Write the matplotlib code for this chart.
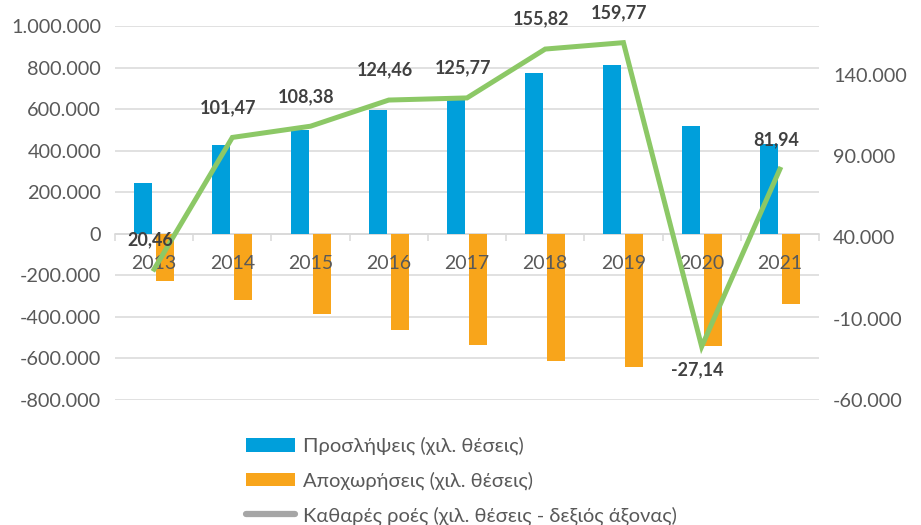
import matplotlib
matplotlib.use("Agg")
import matplotlib.pyplot as plt
from matplotlib.ticker import FuncFormatter, FixedLocator
from matplotlib.patches import Patch
from matplotlib.lines import Line2D
import numpy as np

plt.rcParams['font.family'] = ['Lato', 'DejaVu Sans']

years = ['2013', '2014', '2015', '2016', '2017', '2018', '2019', '2020', '2021']
hires = [246000, 425000, 498000, 594000, 647000, 773000, 812000, 517000, 430000]
departures = [-227000, -319000, -386000, -464000, -536000, -613000, -643000, -540000, -338000]
net_flows = [20.46, 101.47, 108.38, 124.46, 125.77, 155.82, 159.77, -27.14, 81.94]
net_labels = ['20,46', '101,47', '108,38', '124,46', '125,77', '155,82', '159,77', '-27,14', '81,94']
legend_labels = ['Προσλήψεις (χιλ. θέσεις)', 'Αποχωρήσεις (χιλ. θέσεις)',
                 'Καθαρές ροές (χιλ. θέσεις - δεξιός άξονας)']

BLUE = '#009FDB'
ORANGE = '#F8A51B'
GREEN = '#8CC866'
GRAYLINE = '#A6A6A6'
GRID = '#D9D9D9'
TXT = '#595959'
LBL = '#404040'

fig = plt.figure(figsize=(9.21, 5.25), dpi=100)
ax = fig.add_axes([115/921, 1-400/525, (819-115)/921, (400-26)/525])
ax2 = ax.twinx()

x = np.arange(len(years))
w = 0.23
off = 0.14
ax.bar(x - off, hires, width=w, color=BLUE, zorder=2)
ax.bar(x + off, departures, width=w, color=ORANGE, zorder=2)

ax.set_xlim(-0.5, len(years) - 0.5)
ax.set_ylim(-800000, 1000000)
ax.set_yticks(np.arange(-800000, 1000001, 200000))
ax.yaxis.set_major_formatter(FuncFormatter(lambda v, p: '0' if v == 0 else f"{int(v):,}".replace(',', '.')))
ax.grid(axis='y', color=GRID, linewidth=1.1)
ax.yaxis.set_zorder(0.5)
ax.xaxis.set_zorder(3)
for s in ['top', 'right', 'left']:
    ax.spines[s].set_visible(False)
ax.spines['bottom'].set_position(('data', 0))
ax.spines['bottom'].set_color(GRID)
ax.spines['bottom'].set_linewidth(1.1)
ax.spines['bottom'].set_zorder(1)

ax.set_xticks(x)
ax.set_xticklabels(years)
ax.xaxis.set_minor_locator(FixedLocator(np.arange(-0.5, len(years), 1.0)))
ax.tick_params(axis='x', which='major', length=0, pad=15, labelsize=14, labelcolor=TXT)
ax.tick_params(axis='x', which='minor', length=5, width=1.1, color=GRID, direction='out')
ax.tick_params(axis='y', length=0, pad=10, labelsize=14.3, labelcolor=TXT)

ax2.plot(x, net_flows, color=GREEN, linewidth=3.6, zorder=3, solid_joinstyle='miter')
ax2.set_ylim(-60, 170)
ax2.set_yticks([-60, -10, 40, 90, 140])
ax2.yaxis.set_major_formatter(FuncFormatter(lambda v, p: f"{int(round(v*1000)):,}".replace(',', '.')))
ax2.tick_params(axis='y', length=0, pad=10, labelsize=14.3, labelcolor=TXT)
for s in ['top', 'right', 'left', 'bottom']:
    ax2.spines[s].set_visible(False)

for i, (v, t) in enumerate(zip(net_flows, net_labels)):
    dy = -17 if v < 0 else 21.5
    ax2.annotate(t, (x[i], v), xytext=(-3, dy), textcoords='offset points',
                 ha='center', va='center', fontsize=13, fontweight='bold', color=LBL, zorder=5)

handles = [Patch(facecolor=BLUE, edgecolor='none'),
           Patch(facecolor=ORANGE, edgecolor='none'),
           Line2D([0], [0], color=GRAYLINE, linewidth=4.5, solid_capstyle='round')]
leg = fig.legend(handles, legend_labels, loc='upper left', bbox_to_anchor=(246/921, 1-437/525),
                 frameon=False, fontsize=14.5, handlelength=2.45, handleheight=0.65,
                 handletextpad=0.4, labelspacing=0.8, borderaxespad=0, borderpad=0)
for t in leg.get_texts():
    t.set_color(TXT)

fig.savefig('out.png', dpi=100)
